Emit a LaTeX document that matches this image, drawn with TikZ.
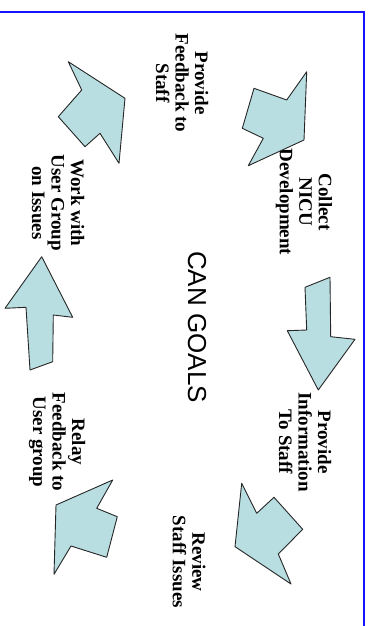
\documentclass[tikz,border=0pt]{standalone}
\usepackage{fontspec}
\setmainfont{Liberation Serif}
\newfontfamily\cansans{Liberation Sans}
\definecolor{arrowfill}{RGB}{184,222,226}
\definecolor{framec}{RGB}{20,20,255}
\begin{document}
\begin{tikzpicture}[x=1pt,y=-1pt,
  goal/.style={rotate=-90,align=center,inner sep=0pt,font=\fontsize{19}{19.5}\selectfont\bfseries},
  blockarrow/.style={draw=black!85,fill=arrowfill,line width=0.9pt,line join=round}]
\useasboundingbox (0,0) rectangle (372,626);
% frame
\coordinate (f1) at (0,12);
\coordinate (f2) at (364,12);
\coordinate (f3) at (364,626);
\draw[framec,line width=1.6pt] (f1) -- (f2) -- (f3);
% texts
\node[goal] (t1) at (182,83) {Provide\\Feedback to\\Staff};
\node[goal] (t2) at (304,202) {Collect\\NICU\\Development};
\node[goal] (t3) at (305,442) {Provide\\Information\\To Staff};
\node[goal] (t4) at (189,562) {Review\\Staff Issues};
\node[goal] (t5) at (57,442) {Relay\\Feedback to\\User group};
\node[goal] (t6) at (58,203) {Work with\\User Group\\on Issues};
\node[rotate=-90,inner sep=0pt,font=\cansans\fontsize{26}{28}\selectfont] (c) at (197,327) {CAN GOALS};
% block arrows
\draw[blockarrow] (68.3,61.7) -- (125,98.3) -- (119,163.3) -- (100,133.3) -- (85,146.7) -- (58.3,116.7) -- (81.7,90) -- cycle;
\draw[blockarrow] (306.7,71.7) -- (304,140) -- (248.3,165.7) -- (263.3,138.3) -- (242.3,128.3) -- (254,88.3) -- (286.7,100) -- cycle;
\draw[blockarrow] (305,287.3) -- (330,277.3) -- (330.7,336.7) -- (355,339.3) -- (318.3,390) -- (287.3,330.7) -- (306.7,330) -- cycle;
\draw[blockarrow] (41.7,256.7) -- (72.7,317.3) -- (53.3,315) -- (52.7,361.7) -- (30,370) -- (26,307.3) -- (5,308.3) -- cycle;
\draw[blockarrow] (241.7,483.3) -- (256.7,513.3) -- (274,497.3) -- (302.7,529.3) -- (278.3,554) -- (291,584) -- (235,546.7) -- cycle;
\draw[blockarrow] (112.7,480) -- (96.7,508.3) -- (117.3,516.7) -- (106.7,557.3) -- (71,546) -- (54,574.3) -- (56,505) -- cycle;
\end{tikzpicture}
\end{document}
